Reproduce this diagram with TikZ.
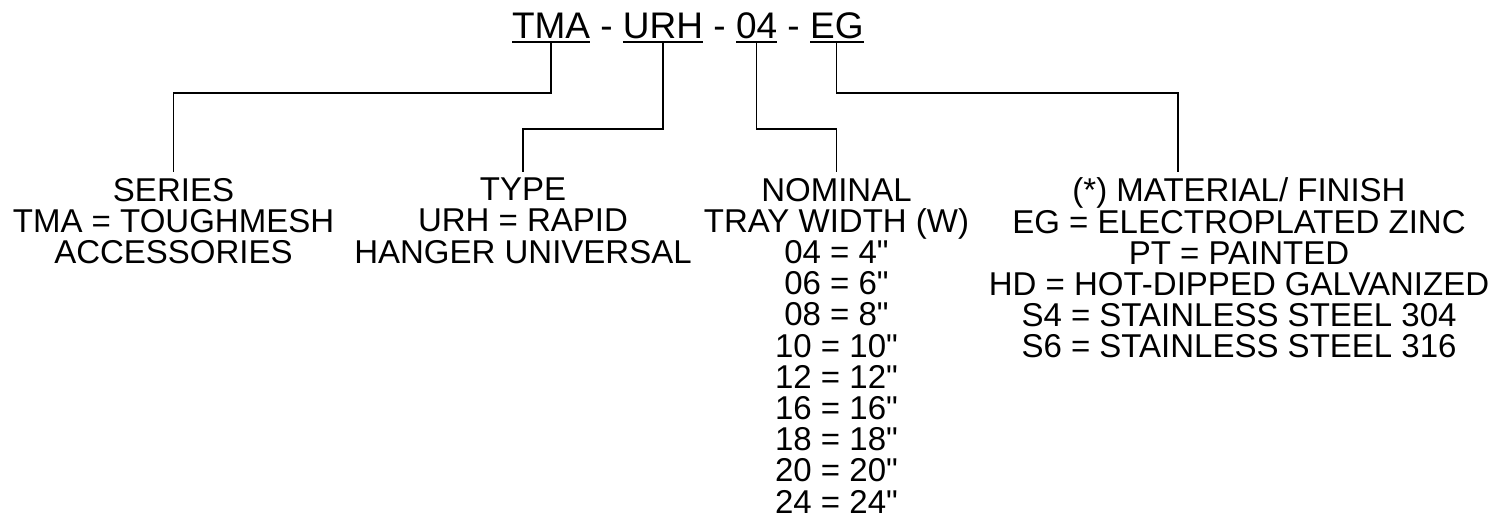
\documentclass[tikz,border=0pt]{standalone}
\usepackage{fontspec}
\setmainfont{Liberation Sans}
\usepackage{tikz}
\usetikzlibrary{positioning, calc}

\newcommand{\inch}{\textquotedbl}

\begin{document}
\begin{tikzpicture}[
    code/.style={inner sep=0pt, outer sep=0pt, text height=27pt, text depth=3.5pt,
                 font=\fontsize{37}{40}\selectfont},
    block/.style={inner xsep=0pt, inner ysep=6pt, outer sep=0pt, align=center,
                  anchor=north, font=\fontsize{33}{31.2}\selectfont},
    link/.style={draw=black, line width=1.3pt},
    uline/.style={draw=black, line width=2pt}
]
    \useasboundingbox (0,0) rectangle (1495pt,520pt);

    % part number
    \node[code, anchor=base west] (tma) at (512pt,481.5pt) {TMA};
    \node[code, right=0pt of tma] (d1) {\ -\ \null};
    \node[code, right=0pt of d1] (urh) {URH};
    \node[code, right=0pt of urh] (d2) {\ -\ \null};
    \node[code, right=0pt of d2] (w04) {04};
    \node[code, right=0pt of w04] (d3) {\ -\ \null};
    \node[code, right=0pt of d3] (eg) {EG};
    \foreach \p in {tma,urh,w04,eg}
        \draw[uline] (\p.south west) -- (\p.south east);

    % descriptions
    \node[block] (series) at (173.5pt,348pt) {SERIES\\TMA = TOUGHMESH\\ACCESSORIES};
    \node[block] (type) at (523pt,348pt) {TYPE\\URH = RAPID\\HANGER UNIVERSAL};
    \node[block] (width) at (836.5pt,348pt) {NOMINAL\\TRAY WIDTH (W)\\04 = 4\inch\\06 = 6\inch\\08 = 8\inch\\
        10 = 10\inch\\12 = 12\inch\\16 = 16\inch\\18 = 18\inch\\20 = 20\inch\\24 = 24\inch};
    \node[block] (finish) at (1239pt,348pt) {(*) MATERIAL/ FINISH\\EG = ELECTROPLATED ZINC\\
        PT = PAINTED\\HD = HOT-DIPPED GALVANIZED\\S4 = STAINLESS STEEL 304\\S6 = STAINLESS STEEL 316};

    \draw[link] (tma.south) -- ++(0,-51pt) -| (series.north);
    \draw[link] (urh.south) -- ++(0,-87pt) -| (type.north);
    \draw[link] (w04.south) -- ++(0,-87pt) -| (width.north);
    \draw[link] (eg.south) -- ++(0,-51pt) -| ([xshift=-61pt]finish.north);
\end{tikzpicture}
\end{document}
